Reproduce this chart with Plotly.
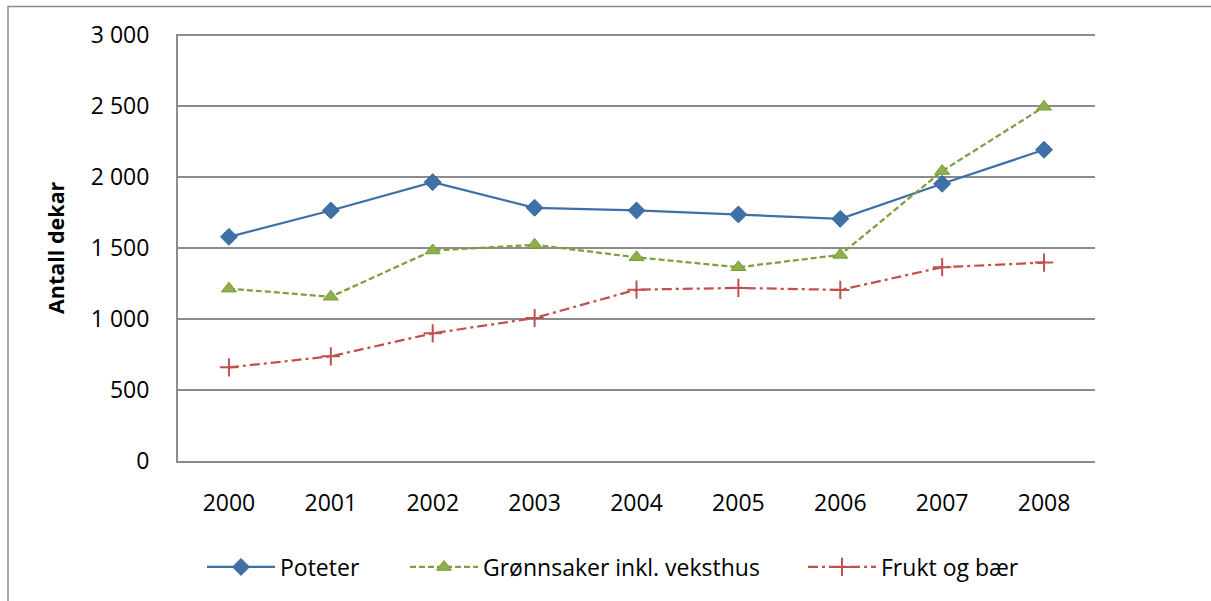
import plotly.graph_objects as go

years = ["2000", "2001", "2002", "2003", "2004", "2005", "2006", "2007", "2008"]
poteter = [1580, 1766, 1966, 1785, 1766, 1738, 1707, 1954, 2194]
gronnsaker = [1215, 1158, 1484, 1524, 1436, 1366, 1453, 2044, 2497]
frukt = [660, 738, 900, 1008, 1208, 1220, 1206, 1366, 1399]
ytick_vals = [0, 500, 1000, 1500, 2000, 2500, 3000]
ytick_text = ["0", "500", "1 000", "1 500", "2 000", "2 500", "3 000"]

W, H = 1211, 601
L, R, T, B = 178, 116, 34, 140
pw, ph = W - L - R, H - T - B
FONT = "Open Sans"


def px_x(x):
    return (x - L) / pw


def px_y(y):
    return (T + ph - y) / ph


fig = go.Figure()
fig.add_trace(go.Scatter(
    x=years, y=poteter, name="Poteter", mode="lines+markers", legend="legend",
    line=dict(color="#3F6FA6", width=2.25),
    marker=dict(symbol="diamond", size=13, color="#4070A8", line=dict(color="#3A659A", width=1)),
))
fig.add_trace(go.Scatter(
    x=years, y=gronnsaker, name="Grønnsaker inkl. veksthus", mode="lines+markers", legend="legend2",
    line=dict(color="#7F9E3C", width=2.25, dash="6px,3px"),
    marker=dict(symbol="triangle-up", size=13, color="#8DB04A", line=dict(color="#7A9A38", width=1)),
))
fig.add_trace(go.Scatter(
    x=years, y=frukt, name="Frukt og bær", mode="lines+markers", legend="legend3",
    line=dict(color="#C0504D", width=2.25, dash="10px,4px,3px,4px"),
    marker=dict(symbol="cross-thin", size=13, color="#C0504D", line=dict(color="#C0504D", width=2)),
))


def leg(xpix):
    return dict(orientation="h", x=px_x(xpix), xanchor="left", y=px_y(567), yanchor="middle",
                font=dict(family=FONT, size=23, color="black"), itemwidth=68,
                bgcolor="rgba(0,0,0,0)")


fig.update_layout(
    width=W, height=H,
    margin=dict(l=L, r=R, t=T, b=B),
    paper_bgcolor="white", plot_bgcolor="white",
    font=dict(family=FONT, size=23, color="black"),
    showlegend=True,
    legend=leg(202), legend2=leg(405), legend3=leg(803),
    xaxis=dict(type="category", range=[-0.5, 8.5], showgrid=False, showline=True,
               linecolor="#8C8C8C", linewidth=2, ticks="", ticklabelstandoff=20,
               tickfont=dict(family=FONT, size=23, color="black"), zeroline=False),
    yaxis=dict(range=[0, 3010], tickvals=ytick_vals, ticktext=ytick_text,
               showgrid=True, gridcolor="#8C8C8C", gridwidth=1.5, showline=True,
               linecolor="#8C8C8C", linewidth=2, ticks="", ticklabelstandoff=22,
               tickfont=dict(family=FONT, size=23, color="black"), zeroline=False),
    annotations=[dict(text="<b>Antall dekar</b>", textangle=-90, xref="paper", yref="paper",
                      x=px_x(55), y=px_y(248), xanchor="center", yanchor="middle",
                      showarrow=False, font=dict(family=FONT, size=21.5, color="black"))],
    shapes=[dict(type="rect", xref="paper", yref="paper",
                 x0=px_x(8), x1=px_x(W + 5), y0=px_y(H + 5), y1=px_y(6.5),
                 line=dict(color="#8C8C8C", width=1.5), fillcolor="rgba(0,0,0,0)", layer="below")],
)

fig.write_html("out.html", config={"displayModeBar": False},
               post_script="document.body.style.margin='0px';document.body.style.overflow='hidden';")
